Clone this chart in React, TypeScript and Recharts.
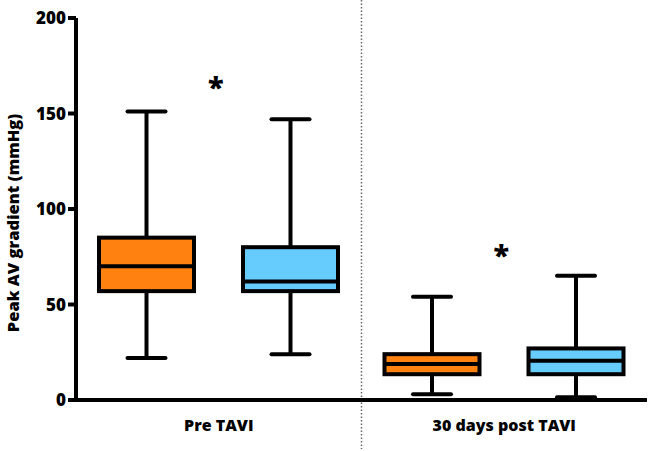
import React from "react";
import { ComposedChart, Bar, XAxis, YAxis, ReferenceArea, ReferenceDot } from "recharts";

const categories = ["Pre TAVI", "30 days post TAVI"];

// series A (orange)
const aMin = [22, 3];
const aQ1 = [57, 13.5];
const aMedian = [70, 18.8];
const aQ3 = [85, 24];
const aMax = [151, 54];

// series B (blue)
const bMin = [24, 1.5];
const bQ1 = [57, 13.5];
const bMedian = [62, 20.5];
const bQ3 = [80, 27];
const bMax = [147, 65];

// significance markers
const starY = [165, 77];

const yTicks = [0, 50, 100, 150, 200];

const ORANGE = "#FF8210";
const BLUE = "#66CBFD";
const FONT = "'Open Sans', Lato, sans-serif";

const data = categories.map((name, i) => ({
  name,
  a: { min: aMin[i], q1: aQ1[i], med: aMedian[i], q3: aQ3[i], max: aMax[i] },
  b: { min: bMin[i], q1: bQ1[i], med: bMedian[i], q3: bQ3[i], max: bMax[i] },
  aRange: [aMin[i], aMax[i]],
  bRange: [bMin[i], bMax[i]],
}));

// draws one box & whisker inside the range bar's rectangle
const boxShape = (key: "a" | "b", color: string) => (props: any) => {
  const { x, y, width, height, payload } = props;
  const s = payload[key];
  const py = (v: number) => y + (height * (s.max - v)) / (s.max - s.min);
  const cx = x + width / 2;
  const cap = 38;
  const sw = 4;
  return (
    <g>
      <line x1={cx} x2={cx} y1={py(s.max)} y2={py(s.q3)} stroke="#000" strokeWidth={sw} />
      <line x1={cx} x2={cx} y1={py(s.q1)} y2={py(s.min)} stroke="#000" strokeWidth={sw} />
      <line x1={cx - cap / 2} x2={cx + cap / 2} y1={py(s.max)} y2={py(s.max)} stroke="#000" strokeWidth={sw} strokeLinecap="round" />
      <line x1={cx - cap / 2} x2={cx + cap / 2} y1={py(s.min)} y2={py(s.min)} stroke="#000" strokeWidth={sw} strokeLinecap="round" />
      <rect x={x} y={py(s.q3)} width={width} height={py(s.q1) - py(s.q3)} fill={color} stroke="#000" strokeWidth={sw} />
      <line x1={x} x2={x + width} y1={py(s.med)} y2={py(s.med)} stroke="#000" strokeWidth={sw} />
    </g>
  );
};

const YLabel = (props: any) => {
  const { viewBox } = props;
  const cy = viewBox.y + viewBox.height / 2 + 14;
  const lx = 12;
  return (
    <text
      x={lx}
      y={cy}
      transform={`rotate(-90, ${lx}, ${cy})`}
      textAnchor="middle"
      dominantBaseline="central"
      fontFamily={FONT}
      fontWeight={800}
      fontSize={16.5}
      fill="#000"
    >
      Peak AV gradient (mmHg)
    </text>
  );
};

const Star = (props: any) => {
  const { viewBox } = props;
  const cx = viewBox.x + viewBox.width / 2 - 3;
  const cy = viewBox.y + viewBox.height / 2;
  return (
    <text x={cx} y={cy + 13} textAnchor="middle" fontFamily={FONT} fontWeight={800} fontSize={29} fill="#000">
      *
    </text>
  );
};

// dotted divider on the boundary between the two category bands
const Separator = (props: any) => {
  const { x, width } = props;
  const mx = x + width / 2;
  return <line x1={mx} x2={mx} y1={0} y2={449} stroke="#666" strokeWidth={1.5} strokeDasharray="1.5 2" />;
};

export default function App() {
  return (
    <div style={{ position: "absolute", left: 0, top: 0, width: 650, height: 451, background: "#fff" }}>
      <ComposedChart
        width={650}
        height={451}
        data={data}
        margin={{ top: 18, right: 3, left: 0, bottom: 0 }}
        barSize={95}
        barGap={49}
      >
        <XAxis
          dataKey="name"
          height={51}
          tickLine={false}
          axisLine={{ stroke: "#000", strokeWidth: 4 }}
          tickSize={0}
          tickMargin={20}
          tick={{ fill: "#000", fontFamily: FONT, fontWeight: 800, fontSize: 16 }}
        />
        <YAxis
          width={76}
          domain={[0, 200]}
          ticks={yTicks}
          interval={0}
          tickSize={8}
          tickMargin={2}
          axisLine={{ stroke: "#000", strokeWidth: 4 }}
          tickLine={{ stroke: "#000", strokeWidth: 4 }}
          tick={{ fill: "#000", fontFamily: FONT, fontWeight: 800, fontSize: 17 }}
          label={<YLabel />}
        />
        <ReferenceArea
          x1={categories[0]}
          x2={categories[1]}
          shape={<Separator />}
          ifOverflow="visible"
          fill="none"
          stroke="none"
        />
        <Bar dataKey="aRange" fill={ORANGE} shape={boxShape("a", ORANGE)} isAnimationActive={false} />
        <Bar dataKey="bRange" fill={BLUE} shape={boxShape("b", BLUE)} isAnimationActive={false} />
        {categories.map((c, i) => (
          <ReferenceDot key={c} x={c} y={starY[i]} r={0} fill="none" stroke="none" label={<Star />} ifOverflow="visible" />
        ))}
      </ComposedChart>
    </div>
  );
}
